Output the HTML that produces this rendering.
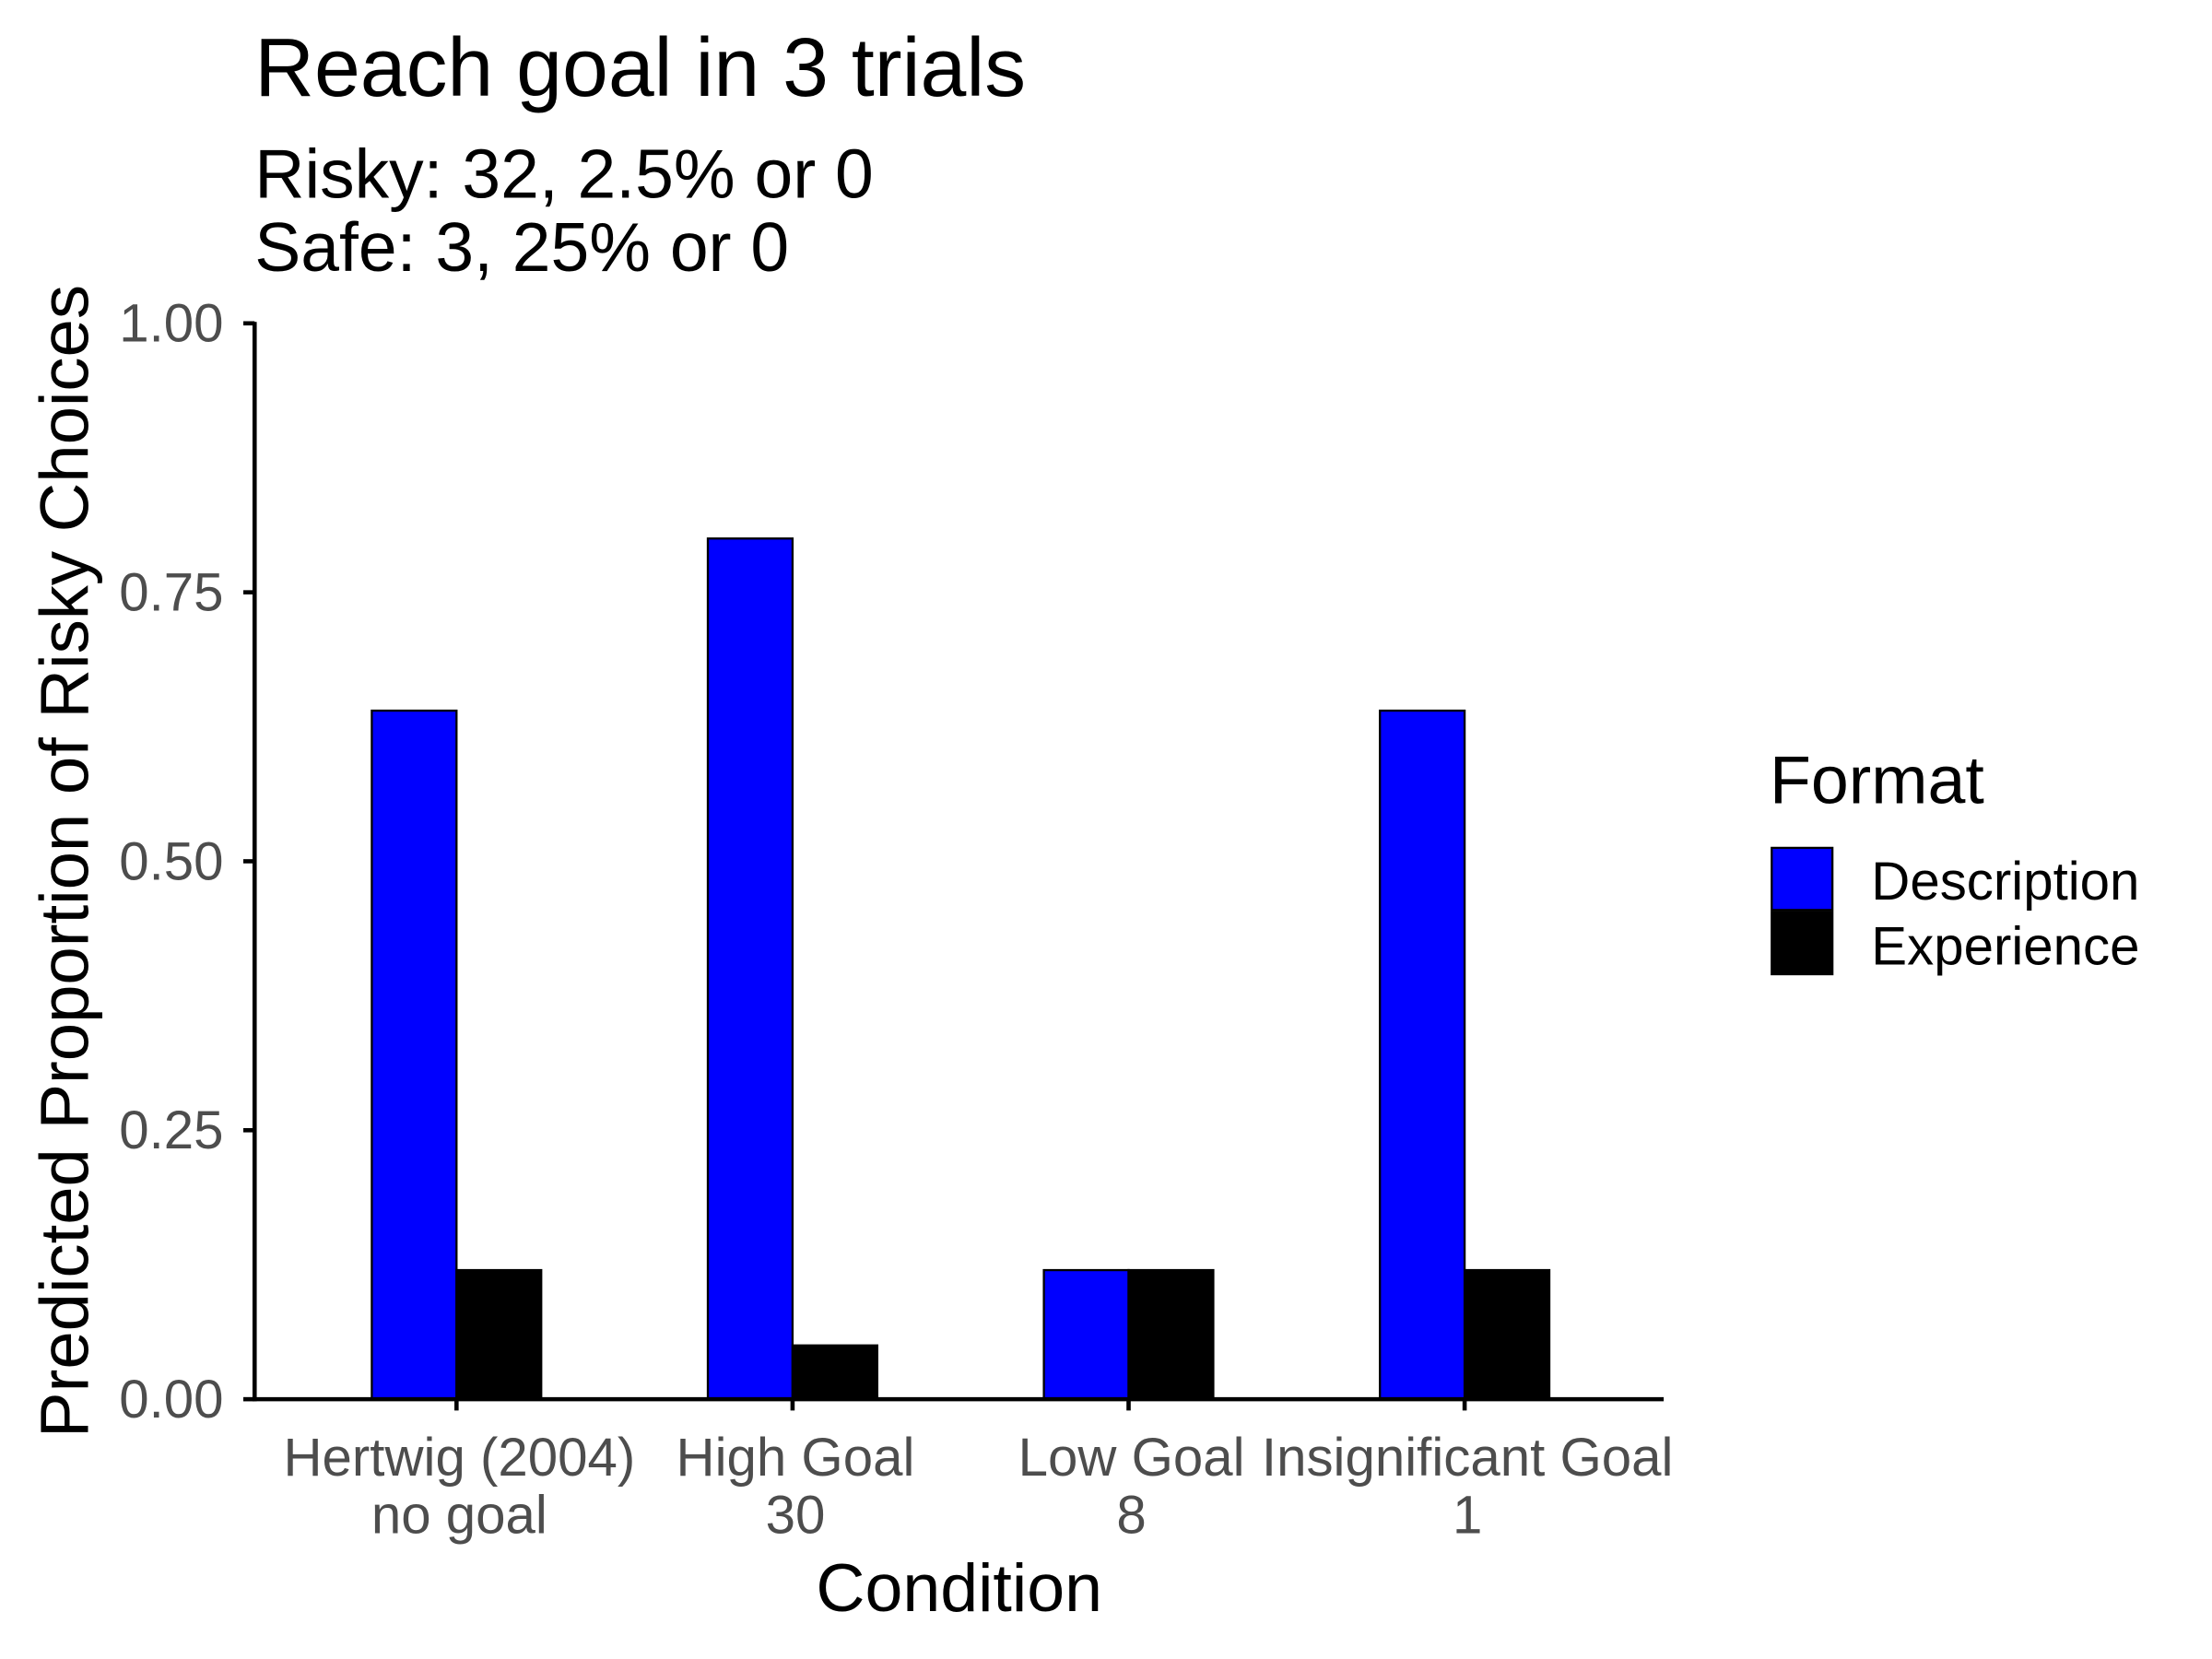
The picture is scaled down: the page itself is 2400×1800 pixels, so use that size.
<!DOCTYPE html>
<html><head><meta charset="utf-8"><style>
html,body{margin:0;padding:0;background:#fff;}
svg{display:block;font-family:"Liberation Sans",Arial,sans-serif;}
</style></head><body>
<svg id="chart" width="2400" height="1800" viewBox="0 0 1566 1175">
<rect width="1566" height="1175" fill="#fff"/>
<text x="180" y="68" font-size="58.5" fill="#000">Reach goal in 3 trials</text>
<text x="180" y="140" font-size="49" fill="#000">Risky: 32, 2.5% or 0</text>
<text x="180" y="192" font-size="49" fill="#000">Safe: 3, 25% or 0</text>
<g id="bars"></g>
<g id="axes"></g>
<text transform="translate(62,610) rotate(-90)" text-anchor="middle" font-size="48.5" fill="#000">Predicted Proportion of Risky Choices</text>
<text x="679" y="1141" text-anchor="middle" font-size="48" fill="#000">Condition</text>
<g>
<text x="1253" y="569" font-size="48" fill="#000">Format</text>
<rect x="1254.5" y="600.5" width="43" height="44" fill="#0000ff" stroke="#000" stroke-width="1.5"/>
<rect x="1254.5" y="646" width="43" height="44" fill="#000" stroke="#000" stroke-width="1.5"/>
<text x="1325" y="637" font-size="38" fill="#000">Description</text>
<text x="1325" y="683" font-size="38" fill="#000">Experience</text>
</g>
</svg>
<script>
const categories = [["Hertwig (2004)","no goal"],["High Goal","30"],["Low Goal","8"],["Insignificant Goal","1"]];
const descriptionValues = [0.64, 0.80, 0.12, 0.64];
const experienceValues = [0.12, 0.05, 0.12, 0.12];
const yTicks = [0, 0.25, 0.5, 0.75, 1];
const yTickLabels = ["0.00","0.25","0.50","0.75","1.00"];

const NS = "http://www.w3.org/2000/svg";
const X0 = 180, X1 = 1178, Y0 = 991, Y1 = 229;
function yScale(v){ return Y0 - (Y0 - Y1) * v; }
function xCenter(i){ return 323 + i * 238 * (4 / categories.length); }
const BW = 60;
function mk(tag, attrs, parent){ const e = document.createElementNS(NS, tag); for (const k in attrs) e.setAttribute(k, attrs[k]); parent.appendChild(e); return e; }
const bars = document.getElementById('bars');
const axes = document.getElementById('axes');
descriptionValues.forEach((v, i) => {
  const r = mk('rect', {x: xCenter(i) - BW, y: yScale(v), width: BW, height: Y0 - yScale(v), fill: '#0000ff', stroke: '#000', 'stroke-width': 1.5}, bars);
  
  
});
experienceValues.forEach((v, i) => {
  const r = mk('rect', {x: xCenter(i), y: yScale(v), width: BW, height: Y0 - yScale(v), fill: '#000', stroke: '#000', 'stroke-width': 1.5}, bars);
  
  
});
const ya = mk('line', {x1: X0, y1: Y1 - 1, x2: X0, y2: Y0 + 1.5, stroke: '#000', 'stroke-width': 3}, axes);


const xa = mk('line', {x1: X0 - 1.5, y1: Y0, x2: X1, y2: Y0, stroke: '#000', 'stroke-width': 3}, axes);


yTicks.forEach((t, i) => {
  const y = yScale(t);
  const tk = mk('line', {x1: X0 - 8, y1: y, x2: X0, y2: y, stroke: '#000', 'stroke-width': 3}, axes);
  
  
  const tx = mk('text', {x: X0 - 22, y: y + 13, 'text-anchor': 'end', 'font-size': 38, fill: '#4d4d4d'}, axes);
  tx.textContent = yTickLabels[i];
  
  
});
categories.forEach((c, i) => {
  const x = xCenter(i);
  const tk = mk('line', {x1: x, y1: Y0, x2: x, y2: Y0 + 8, stroke: '#000', 'stroke-width': 3}, axes);
  
  
  c.forEach((line, j) => {
    const tx = mk('text', {x: x + 2, y: 1045 + j * 41, 'text-anchor': 'middle', 'font-size': 38, fill: '#4d4d4d'}, axes);
    tx.textContent = line;
    
    
  });
});
</script>
</body></html>
